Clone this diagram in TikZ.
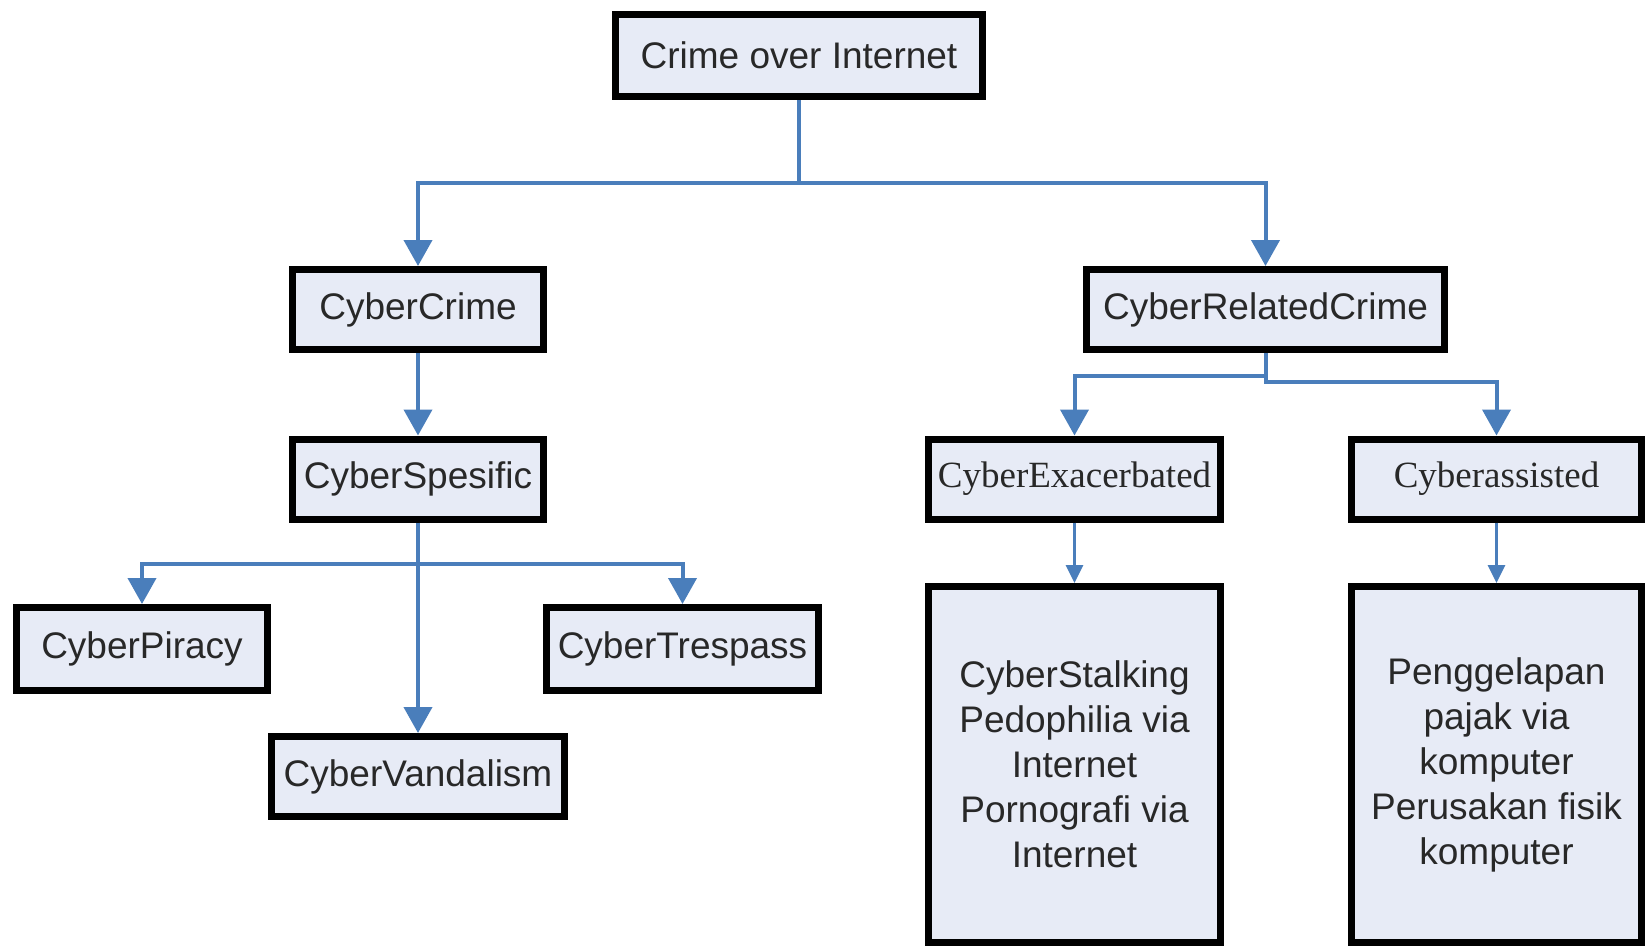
\documentclass[tikz,border=0pt]{standalone}
\usepackage{fontspec}
\setmainfont{Liberation Sans}
\newfontfamily\timesfont{Liberation Serif}
\usetikzlibrary{arrows.meta}
\begin{document}
\begin{tikzpicture}[x=0.5pt,y=-0.5pt,
  cbox/.style={draw=black,line width=3.5pt,fill=bx,text=tx,inner sep=0pt,
    minimum height=40pt,align=center,font=\fontsize{18.5}{22.5}\selectfont},
  serif/.style={font=\timesfont\fontsize{18.5}{22.5}\selectfont},
  link/.style={draw=ln,line width=2pt,-{Triangle[width=14pt,length=13pt]}},
  smalllink/.style={draw=ln,line width=1.5pt,-{Triangle[width=8.5pt,length=9pt]}}]
\definecolor{bx}{RGB}{231,235,246}
\definecolor{tx}{RGB}{40,40,40}
\definecolor{ln}{RGB}{74,126,187}
\useasboundingbox (0,0) rectangle (1648,949);

\node[cbox,minimum width=183.5pt,minimum height=41pt] (crime) at (799,55.5) {Crime over Internet};
\node[cbox,minimum width=125.5pt] (cyber) at (418,309.5) {CyberCrime};
\node[cbox,minimum width=179pt] (related) at (1265.5,309.5) {CyberRelatedCrime};
\node[cbox,minimum width=125.5pt] (spesific) at (418,479) {CyberSpesific};
\node[cbox,serif,minimum width=146pt] (exacerbated) at (1074.5,479) {CyberExacerbated};
\node[cbox,serif,minimum width=145pt] (assisted) at (1496.5,479) {Cyberassisted};
\node[cbox,minimum width=125.5pt,minimum height=41.5pt] (piracy) at (142,649) {CyberPiracy};
\node[cbox,minimum width=136pt,minimum height=41.5pt] (trespass) at (682.5,649) {CyberTrespass};
\node[cbox,minimum width=146.5pt] (vandalism) at (418,776.5) {CyberVandalism};
\node[cbox,minimum width=146pt,minimum height=178pt] (exlist) at (1074.5,764.5)
  {CyberStalking\\Pedophilia via\\Internet\\Pornografi via\\Internet};
\node[cbox,minimum width=145pt,minimum height=178pt] (aslist) at (1496.5,764.5)
  {Penggelapan\\pajak via\\komputer\\Perusakan fisik\\komputer};

\coordinate (top) at (799,183);
\coordinate (fork) at (418,564);
\coordinate (left) at (1265.5,376);
\coordinate (right) at (1265.5,382);

\draw[link] (crime.south) -- (top) -| (cyber.north);
\draw[link] (top) -| (related.north);
\draw[link] (cyber) -- (spesific);
\draw[link] (spesific) -- (vandalism);
\draw[link] (fork) -| (piracy.north);
\draw[link] (fork) -| (trespass.north);
\draw[link] (related.south) -- (left) -| (exacerbated.north);
\draw[link] (related.south) -- (right) -| (assisted.north);
\draw[smalllink] (exacerbated) -- (exlist);
\draw[smalllink] (assisted) -- (aslist);
\end{tikzpicture}
\end{document}
